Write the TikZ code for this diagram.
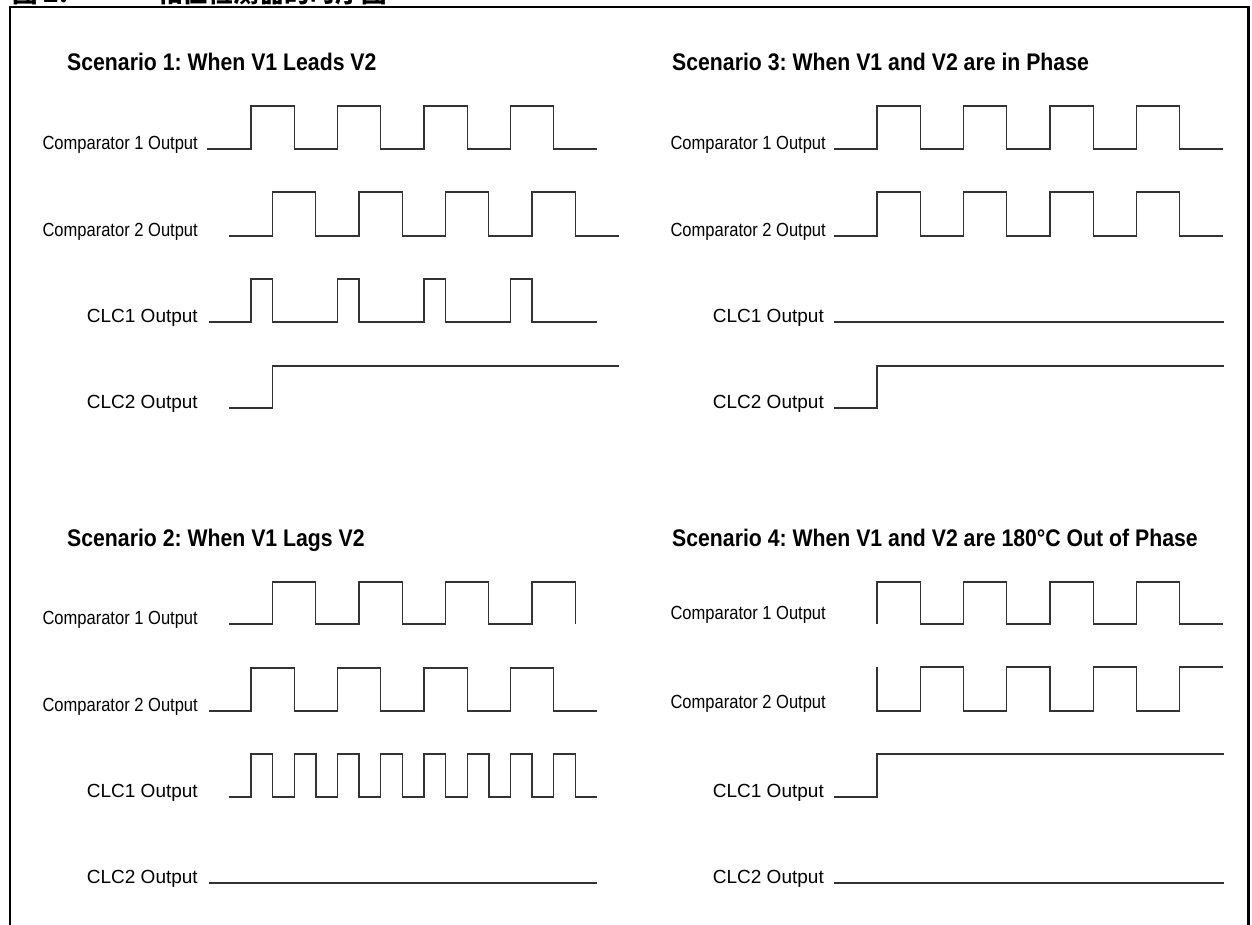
\documentclass[tikz,border=0pt]{standalone}
\usepackage{fontspec}
\setmainfont{Liberation Sans}
\newfontfamily\narrowsf[FakeStretch=0.87]{Liberation Sans}
\newfontfamily\ttlsf[FakeStretch=0.885]{Liberation Sans}
\newfontfamily\cjkfont{Noto Sans CJK SC}

\begin{document}
\frenchspacing
\begin{tikzpicture}[
  x=1pt, y=-1pt,
  cmplbl/.style={anchor=base east, inner sep=0pt, font=\narrowsf\fontsize{19}{22}\selectfont},
  clclbl/.style={anchor=base east, inner sep=0pt, font=\fontsize{19}{22}\selectfont},
  ttl/.style   ={anchor=base west, inner sep=0pt, font=\ttlsf\bfseries\fontsize{24}{28}\selectfont},
  figcap/.style={anchor=base west, inner sep=0pt, font=\cjkfont\bfseries\fontsize{25.5}{28}\selectfont},
  wave/.style  ={line width=1.3pt, black!80},
  frm/.style   ={line width=2.8pt}
]
\useasboundingbox (0,0) rectangle (1252,924);

% figure caption (cut by the page edge) and frame
\node[figcap] (fig)    at (12,2.5)  {图 2:};
\node[figcap] (figttl) at (157,2.5) {相位检测器的时序图};
\draw[frm] (10,940) -- (10,7) -- (1248.5,7) -- (1248.5,940);

% scenario 1
\node[ttl]    (t1)  at (67,70)   {Scenario 1: When V1 Leads V2};
\node[cmplbl] (s1a) at (198,149) {Comparator 1 Output};
\node[cmplbl] (s1b) at (198,236) {Comparator 2 Output};
\node[clclbl] (s1c) at (198,322) {CLC1 Output};
\node[clclbl] (s1d) at (198,408) {CLC2 Output};

\draw[wave] (207,149) -- (251,149)
  foreach \k in {1,...,4} {-- ++(0,-43) -- ++(43.25,0) -- ++(0,43) -- ++(43.25,0)};
\draw[wave] (229,236) -- (272.5,236)
  foreach \k in {1,...,4} {-- ++(0,-44) -- ++(43.25,0) -- ++(0,44) -- ++(43.25,0)};
\draw[wave] (209,322) -- (251,322)
  foreach \k in {1,...,4} {-- ++(0,-43) -- ++(21.6,0) -- ++(0,43) -- ++(64.9,0)};
\draw[wave] (229,408) -- (272.5,408) -- (272.5,366) -- (619,366);

% scenario 3
\node[ttl]    (t3)  at (672,70)  {Scenario 3: When V1 and V2 are in Phase};
\node[cmplbl] (s3a) at (826,149) {Comparator 1 Output};
\node[cmplbl] (s3b) at (826,236) {Comparator 2 Output};
\node[clclbl] (s3c) at (824,322) {CLC1 Output};
\node[clclbl] (s3d) at (824,408) {CLC2 Output};

\draw[wave] (834,149) -- (877,149)
  foreach \k in {1,...,4} {-- ++(0,-43) -- ++(43.25,0) -- ++(0,43) -- ++(43.25,0)};
\draw[wave] (834,236) -- (877,236)
  foreach \k in {1,...,4} {-- ++(0,-44) -- ++(43.25,0) -- ++(0,44) -- ++(43.25,0)};
\draw[wave] (834,322) -- (1224,322);
\draw[wave] (834,408) -- (877,408) -- (877,366) -- (1224,366);

% scenario 2
\node[ttl]    (t2)  at (67,546)  {Scenario 2: When V1 Lags V2};
\node[cmplbl] (s2a) at (198,624) {Comparator 1 Output};
\node[cmplbl] (s2b) at (198,711) {Comparator 2 Output};
\node[clclbl] (s2c) at (198,797) {CLC1 Output};
\node[clclbl] (s2d) at (198,883) {CLC2 Output};

\draw[wave] (229,624) -- (272.5,624)
  foreach \k in {1,...,3} {-- ++(0,-42) -- ++(43.25,0) -- ++(0,42) -- ++(43.25,0)}
  -- ++(0,-42) -- ++(43.25,0) -- ++(0,42);
\draw[wave] (209,711) -- (251,711)
  foreach \k in {1,...,4} {-- ++(0,-43) -- ++(43.25,0) -- ++(0,43) -- ++(43.25,0)};
\draw[wave] (229,797) -- (251,797)
  foreach \k in {1,...,8} {-- ++(0,-43) -- ++(21.625,0) -- ++(0,43) -- ++(21.625,0)};
\draw[wave] (209,883) -- (597,883);

% scenario 4
\node[ttl]    (t4)  at (672,546) {Scenario 4: When V1 and V2 are 180°C Out of Phase};
\node[cmplbl] (s4a) at (826,619) {Comparator 1 Output};
\node[cmplbl] (s4b) at (826,708) {Comparator 2 Output};
\node[clclbl] (s4c) at (824,797) {CLC1 Output};
\node[clclbl] (s4d) at (824,883) {CLC2 Output};

\draw[wave] (877,624)
  foreach \k in {1,...,4} {-- ++(0,-42) -- ++(43.25,0) -- ++(0,42) -- ++(43.25,0)};
\draw[wave] (877,667)
  foreach \k in {1,...,4} {-- ++(0,44) -- ++(43.25,0) -- ++(0,-44) -- ++(43.25,0)};
\draw[wave] (834,797) -- (877,797) -- (877,754) -- (1224,754);
\draw[wave] (834,883) -- (1224,883);
\end{tikzpicture}
\end{document}
